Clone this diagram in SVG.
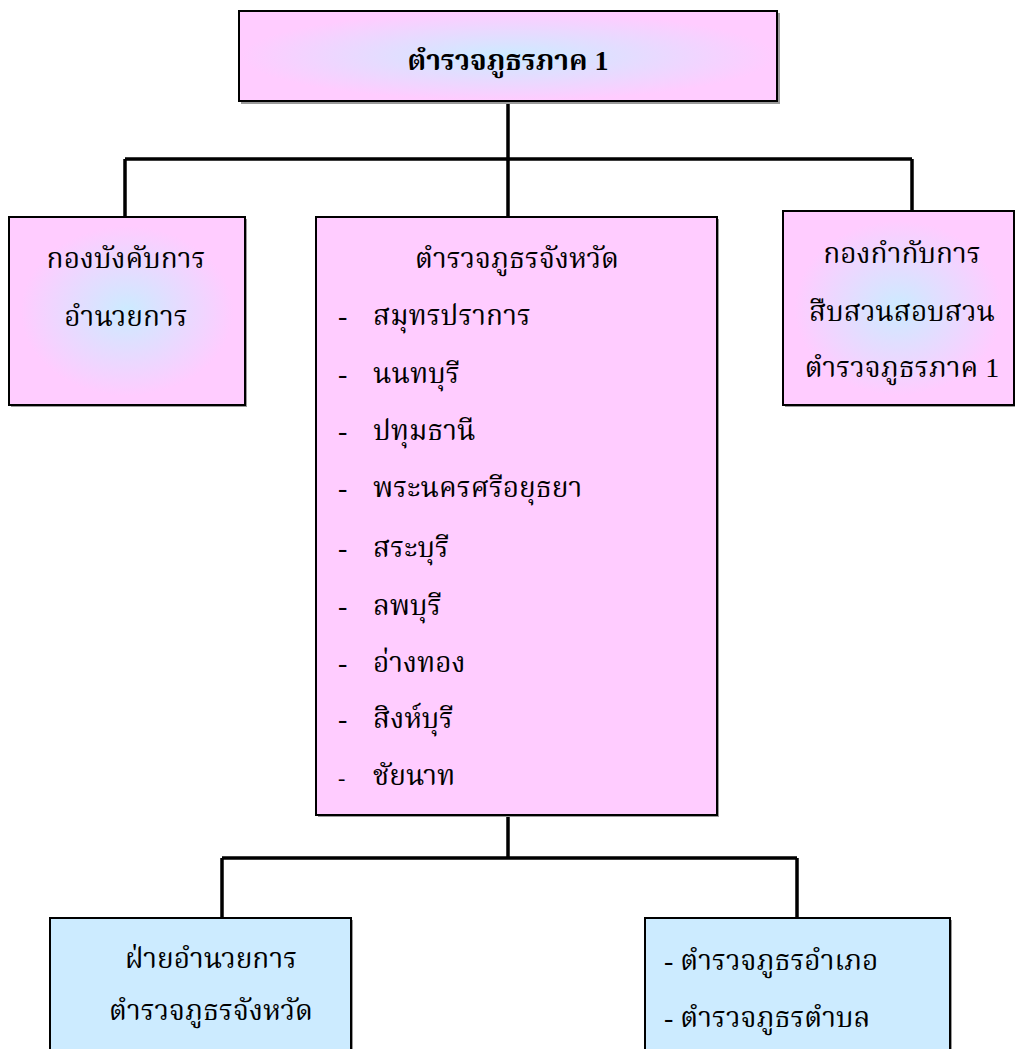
<svg xmlns="http://www.w3.org/2000/svg" width="1016" height="1049" viewBox="0 0 1016 1049">
<defs>
<radialGradient id="gPink" cx="50%" cy="50%" r="60%">
<stop offset="0" stop-color="#CCEBFF"/>
<stop offset="0.75" stop-color="#FFCCFF"/>
</radialGradient>
<radialGradient id="gTop" cx="50%" cy="50%" r="62%">
<stop offset="0" stop-color="#CCEBFF"/>
<stop offset="0.8" stop-color="#FFCCFF"/>
</radialGradient>
</defs>
<style>
.box{stroke:#000;stroke-width:2}
.shadow{fill:#9a9a9a}
.pink{fill:#FFCCFF}
.blue{fill:#CCEBFF}
.t{font-family:"Liberation Serif","Noto Serif Thai","Noto Sans Thai",serif;font-size:28px;fill:#000}
.c{text-anchor:middle}
.b{font-weight:bold}
.ln{stroke:#000;stroke-width:3.5;fill:none}
</style>
<rect width="1016" height="1049" fill="#fff"/>
<g id="connectors">
<path class="ln" d="M508 102 V159 M125 159 H912 M125 159 V217 M508 159 V217 M912 159 V211"/>
<path class="ln" d="M508 815 V858 M222 858 H797 M222 858 V918 M797 858 V918"/>
</g>
<g id="node-top">
<rect class="shadow" x="241" y="13" width="539" height="91"/>
<rect class="box" x="239" y="11" width="538" height="90" fill="url(#gTop)"/>
<text class="t c b" x="508" y="70">ตำรวจภูธรภาค 1</text>
</g>
<g id="node-left">
<rect class="shadow" x="11" y="219" width="236" height="188"/>
<rect class="box" x="9" y="217" width="236" height="188" fill="url(#gPink)"/>
<text class="t c" x="126" y="268">กองบังคับการ</text>
<text class="t c" x="126" y="326">อำนวยการ</text>
</g>
<g id="node-right">
<rect class="shadow" x="785" y="213" width="230" height="194"/>
<rect class="box" x="783" y="211" width="231" height="194" fill="url(#gPink)"/>
<text class="t c" x="902" y="263">กองกำกับการ</text>
<text class="t c" x="902" y="321">สืบสวนสอบสวน</text>
<text class="t c" x="902" y="377">ตำรวจภูธรภาค 1</text>
</g>
<g id="node-center">
<rect class="shadow" x="318" y="219" width="401" height="598"/>
<rect class="box pink" x="316" y="217" width="401" height="598"/>
<text class="t c" x="517" y="268">ตำรวจภูธรจังหวัด</text>
<text class="t" x="338" y="325">-</text><text class="t" x="373" y="325">สมุทรปราการ</text>
<text class="t" x="338" y="383">-</text><text class="t" x="373" y="383">นนทบุรี</text>
<text class="t" x="338" y="440">-</text><text class="t" x="373" y="440">ปทุมธานี</text>
<text class="t" x="338" y="497">-</text><text class="t" x="373" y="497">พระนครศรีอยุธยา</text>
<text class="t" x="338" y="557">-</text><text class="t" x="373" y="557">สระบุรี</text>
<text class="t" x="338" y="615">-</text><text class="t" x="373" y="615">ลพบุรี</text>
<text class="t" x="338" y="672">-</text><text class="t" x="373" y="672">อ่างทอง</text>
<text class="t" x="338" y="728">-</text><text class="t" x="373" y="728">สิงห์บุรี</text>
<text class="t" x="338" y="785" style="font-size:22px">-</text><text class="t" x="373" y="785">ชัยนาท</text>
</g>
<g id="node-bottom-left">
<rect class="shadow" x="52" y="920" width="301" height="140"/>
<rect class="box blue" x="50" y="918" width="301" height="140"/>
<text class="t c" x="211" y="968">ฝ่ายอำนวยการ</text>
<text class="t c" x="211" y="1020">ตำรวจภูธรจังหวัด</text>
</g>
<g id="node-bottom-right">
<rect class="shadow" x="647" y="920" width="305" height="140"/>
<rect class="box blue" x="645" y="918" width="305" height="140"/>
<text class="t" x="664" y="970">- ตำรวจภูธรอำเภอ</text>
<text class="t" x="664" y="1027">- ตำรวจภูธรตำบล</text>
</g>
</svg>
